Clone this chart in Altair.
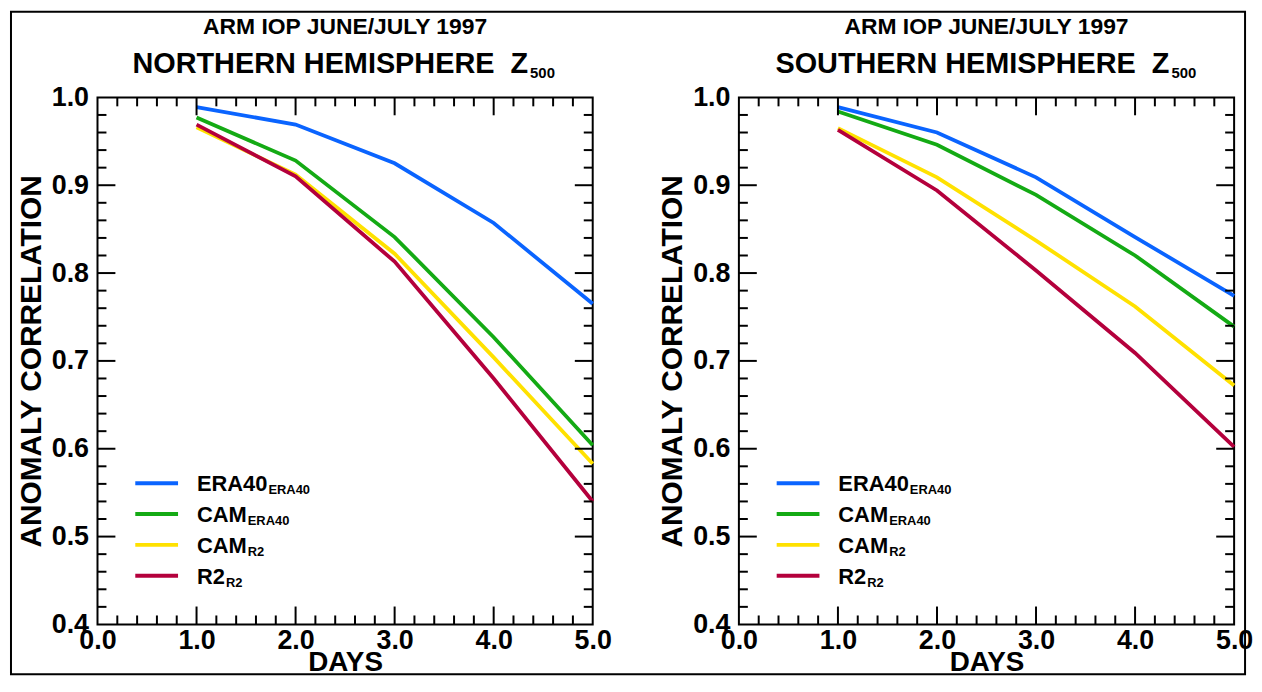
import altair as alt
import pandas as pd

# ---------------- data ----------------
days = [1, 2, 3, 4, 5]
series_names = ["ERA40", "CAM", "CAM", "R2"]
series_subs = ["ERA40", "ERA40", "R2", "R2"]
series_colors = ["#0a64ff", "#14aa14", "#ffe100", "#b4003c"]

nh_era40_era40 = [0.989, 0.969, 0.925, 0.857, 0.765]
nh_cam_era40 = [0.977, 0.928, 0.841, 0.727, 0.604]
nh_cam_r2 = [0.966, 0.912, 0.822, 0.704, 0.583]
nh_r2_r2 = [0.969, 0.910, 0.813, 0.680, 0.540]

sh_era40_era40 = [0.989, 0.960, 0.909, 0.841, 0.774]
sh_cam_era40 = [0.984, 0.946, 0.889, 0.820, 0.739]
sh_cam_r2 = [0.965, 0.909, 0.837, 0.762, 0.672]
sh_r2_r2 = [0.963, 0.894, 0.803, 0.709, 0.602]

x_tick_labels = [0.0, 1.0, 2.0, 3.0, 4.0, 5.0]
y_tick_labels = [0.4, 0.5, 0.6, 0.7, 0.8, 0.9, 1.0]
x_major_inner = [1.0, 2.0, 3.0, 4.0]
x_minor = [0.2, 0.4, 0.6, 0.8, 1.2, 1.4, 1.6, 1.8, 2.2, 2.4, 2.6, 2.8,
           3.2, 3.4, 3.6, 3.8, 4.2, 4.4, 4.6, 4.8]
y_major_inner = [0.5, 0.6, 0.7, 0.8, 0.9]
y_minor = [0.42, 0.44, 0.46, 0.48, 0.52, 0.54, 0.56, 0.58, 0.62, 0.64, 0.66, 0.68,
           0.72, 0.74, 0.76, 0.78, 0.82, 0.84, 0.86, 0.88, 0.92, 0.94, 0.96, 0.98]

top_title = "ARM IOP JUNE/JULY 1997"
x_title = "DAYS"
y_title = "ANOMALY CORRELATION"

FONT = "Liberation Sans"
W, H = 498, 530

# Arial/Liberation Sans Bold advance widths (em)
CW = {"E": 0.667, "R": 0.722, "A": 0.722, "4": 0.556, "0": 0.556,
      "C": 0.722, "M": 0.833, "2": 0.556}


def text_width(s, size):
    return sum(CW.get(c, 0.6) for c in s) * size


def txt(s, x, y, size, align="left"):
    return alt.Chart(pd.DataFrame({"t": [s]})).mark_text(
        font=FONT, fontWeight="bold", fontSize=size, color="black",
        align=align, baseline="alphabetic"
    ).encode(text="t:N", x=alt.value(x), y=alt.value(y))


def panel(region, values, with_frame):
    xs = alt.Scale(domain=[0, 5], nice=False)
    ys = alt.Scale(domain=[0.4, 1.0], nice=False, zero=False)
    xaxis = alt.Axis(values=x_tick_labels, format=".1f", ticks=False, domain=False,
                     grid=False, labelFlush=False, labelPadding=3,
                     title=x_title, titlePadding=-5, titleFontSize=28)
    yaxis = alt.Axis(values=y_tick_labels, format=".1f", ticks=False, domain=False,
                     grid=False, labelPadding=9, title=y_title, titlePadding=5,
                     titleFontSize=30)

    def X(f):
        return alt.X(f"{f}:Q", scale=xs, axis=xaxis)

    def Y(f):
        return alt.Y(f"{f}:Q", scale=ys, axis=yaxis)

    layers = []
    for i in range(4):
        df = pd.DataFrame({"day": days, "value": values[i]})
        layers.append(alt.Chart(df).mark_line(color=series_colors[i], strokeWidth=3.8)
                      .encode(x=X("day"), y=Y("value")))

    # inward ticks on all four sides
    for vals, L in ((x_major_inner, 18), (x_minor, 9)):
        d = pd.DataFrame({"day": vals})
        layers.append(alt.Chart(d).mark_rule(color="black", strokeWidth=2)
                      .encode(x=X("day"), y=alt.value(H), y2=alt.value(H - L)))
        layers.append(alt.Chart(d).mark_rule(color="black", strokeWidth=2)
                      .encode(x=X("day"), y=alt.value(0), y2=alt.value(L)))
    for vals, L in ((y_major_inner, 18), (y_minor, 9)):
        d = pd.DataFrame({"value": vals})
        layers.append(alt.Chart(d).mark_rule(color="black", strokeWidth=2)
                      .encode(y=Y("value"), x=alt.value(0), x2=alt.value(L)))
        layers.append(alt.Chart(d).mark_rule(color="black", strokeWidth=2)
                      .encode(y=Y("value"), x=alt.value(W), x2=alt.value(W - L)))

    # legend
    for i in range(4):
        ly = 388 + i * 31
        one = pd.DataFrame({"k": [0]})
        layers.append(alt.Chart(one).mark_rule(color=series_colors[i], strokeWidth=4)
                      .encode(x=alt.value(38), x2=alt.value(81), y=alt.value(ly)))
        layers.append(txt(series_names[i], 100, ly + 8, 22))
        layers.append(txt(series_subs[i], 100 + text_width(series_names[i], 22) + 1,
                          ly + 11, 13))

    # titles
    layers.append(txt(top_title, W / 2, -64, 23, align="center"))
    layers.append(txt(f"{region} HEMISPHERE\u00a0\u00a0Z", 433, -25, 29, align="right"))
    layers.append(txt("500", 435, -19, 15))

    if with_frame:
        one = pd.DataFrame({"k": [0]})
        layers.append(alt.Chart(one).mark_rect(fillOpacity=0, stroke="black", strokeWidth=2)
                      .encode(x=alt.value(-87), x2=alt.value(1154),
                              y=alt.value(-86), y2=alt.value(580)))

    return alt.layer(*layers).properties(width=W, height=H)


left = panel("NORTHERN", [nh_era40_era40, nh_cam_era40, nh_cam_r2, nh_r2_r2], True)
right = panel("SOUTHERN", [sh_era40_era40, sh_cam_era40, sh_cam_r2, sh_r2_r2], False)

chart = alt.hconcat(left, right, spacing=147, bounds="flush").properties(
    padding={"left": 1, "top": 0, "right": 0, "bottom": 0}
).configure(font=FONT).configure_view(
    stroke="black", strokeWidth=2
).configure_axis(
    labelFont=FONT, labelFontWeight="bold", labelFontSize=27, labelColor="black",
    titleFont=FONT, titleFontWeight="bold", titleColor="black"
)

chart.save("out.html", embed_options={"renderer": "svg", "actions": False})
